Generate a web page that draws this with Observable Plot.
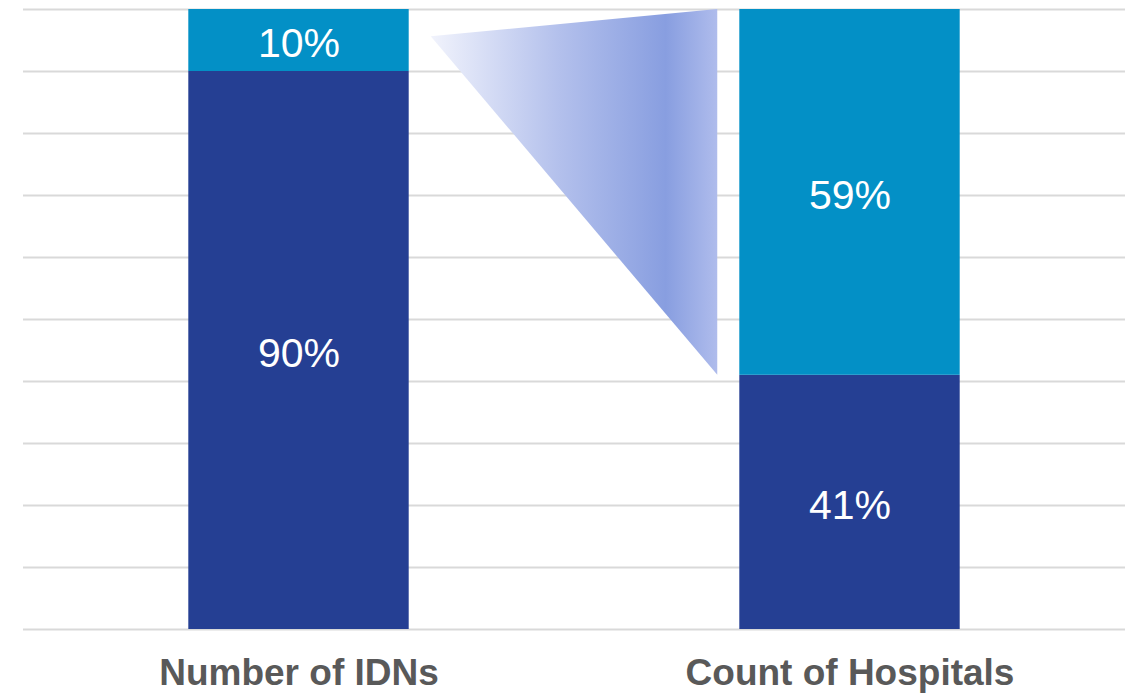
<!DOCTYPE html>
<html>
<head>
<meta charset="utf-8">
<script src="https://cdn.jsdelivr.net/npm/d3@7"></script>
<script src="https://cdn.jsdelivr.net/npm/@observablehq/plot@0.6"></script>
<style>
  html, body { margin: 0; padding: 0; background: #ffffff; }
  #chart { width: 1132px; height: 693px; }
</style>
</head>
<body>
<div id="chart"></div>
<script>
// ---- Data ----
const categories = ["Number of IDNs", "Count of Hospitals"];
const darkShare = [90, 41];   // bottom segment (%)
const lightShare = [10, 59];  // top segment (%)
const gridTicks = [0, 10, 20, 30, 40, 50, 60, 70, 80, 90, 100];
// connector (zoom) triangle: left apex level
const connectorApex = 95.6;

const colors = { dark: "#253f93", light: "#0390c6" };

// ---- Derived tables ----
const segments = [];
categories.forEach((c, i) => {
  segments.push({ cat: c, i, seg: "dark", y1: 0, y2: darkShare[i], label: darkShare[i] + "%" });
  segments.push({ cat: c, i, seg: "light", y1: darkShare[i], y2: darkShare[i] + lightShare[i], label: lightShare[i] + "%" });
});
const half = 0.2;    // half-width of a bar in category units
const gap = 0.04;
const connector = [
  { x: 0 + half + gap, y1: connectorApex, y2: connectorApex },
  { x: 1 - half - gap, y1: darkShare[1], y2: darkShare[1] + lightShare[1] }
];

const plot = Plot.plot({
  width: 1132,
  height: 693,
  marginLeft: 22,
  marginRight: 10,
  marginTop: 9,
  marginBottom: 64,
  style: { fontFamily: "'Liberation Sans', Arial, sans-serif", background: "#ffffff" },
  x: { domain: [-0.5, 1.5], range: [23, 1125], axis: null },
  y: { domain: [0, 100], axis: null },
  marks: [
    Plot.ruleY(gridTicks, { x1: -0.5, x2: 1.5, stroke: "#d9d9d9", strokeWidth: 2 }),
    Plot.rect(segments, {
      x1: d => d.i - half, x2: d => d.i + half,
      y1: "y1", y2: "y2",
      fill: d => colors[d.seg]
    }),
    Plot.areaY(connector, { x: "x", y1: "y1", y2: "y2", fill: "url(#connGrad)", curve: "linear" }),
    Plot.text(segments, {
      x: "i", y: d => (d.y1 + d.y2) / 2, text: "label",
      fill: "white", fontSize: 41, dy: 3
    }),
    Plot.text(categories.map((c, i) => ({ c, i })), {
      x: "i", y: d => 0, text: "c", dy: 44,
      fontSize: 37, fontWeight: "bold", fill: "#595959"
    })
  ]
});

// gradient definition for the connector
const ns = "http://www.w3.org/2000/svg";
const defs = document.createElementNS(ns, "defs");
defs.innerHTML = `<linearGradient id="connGrad" x1="0" y1="0" x2="1" y2="0">
  <stop offset="0" stop-color="#f1f3fc"/>
  <stop offset="0.45" stop-color="#b3c0ec"/>
  <stop offset="0.82" stop-color="#889ee0"/>
  <stop offset="1" stop-color="#afbcec"/>
</linearGradient>`;
plot.insertBefore(defs, plot.firstChild);

document.getElementById("chart").appendChild(plot);
</script>
</body>
</html>
